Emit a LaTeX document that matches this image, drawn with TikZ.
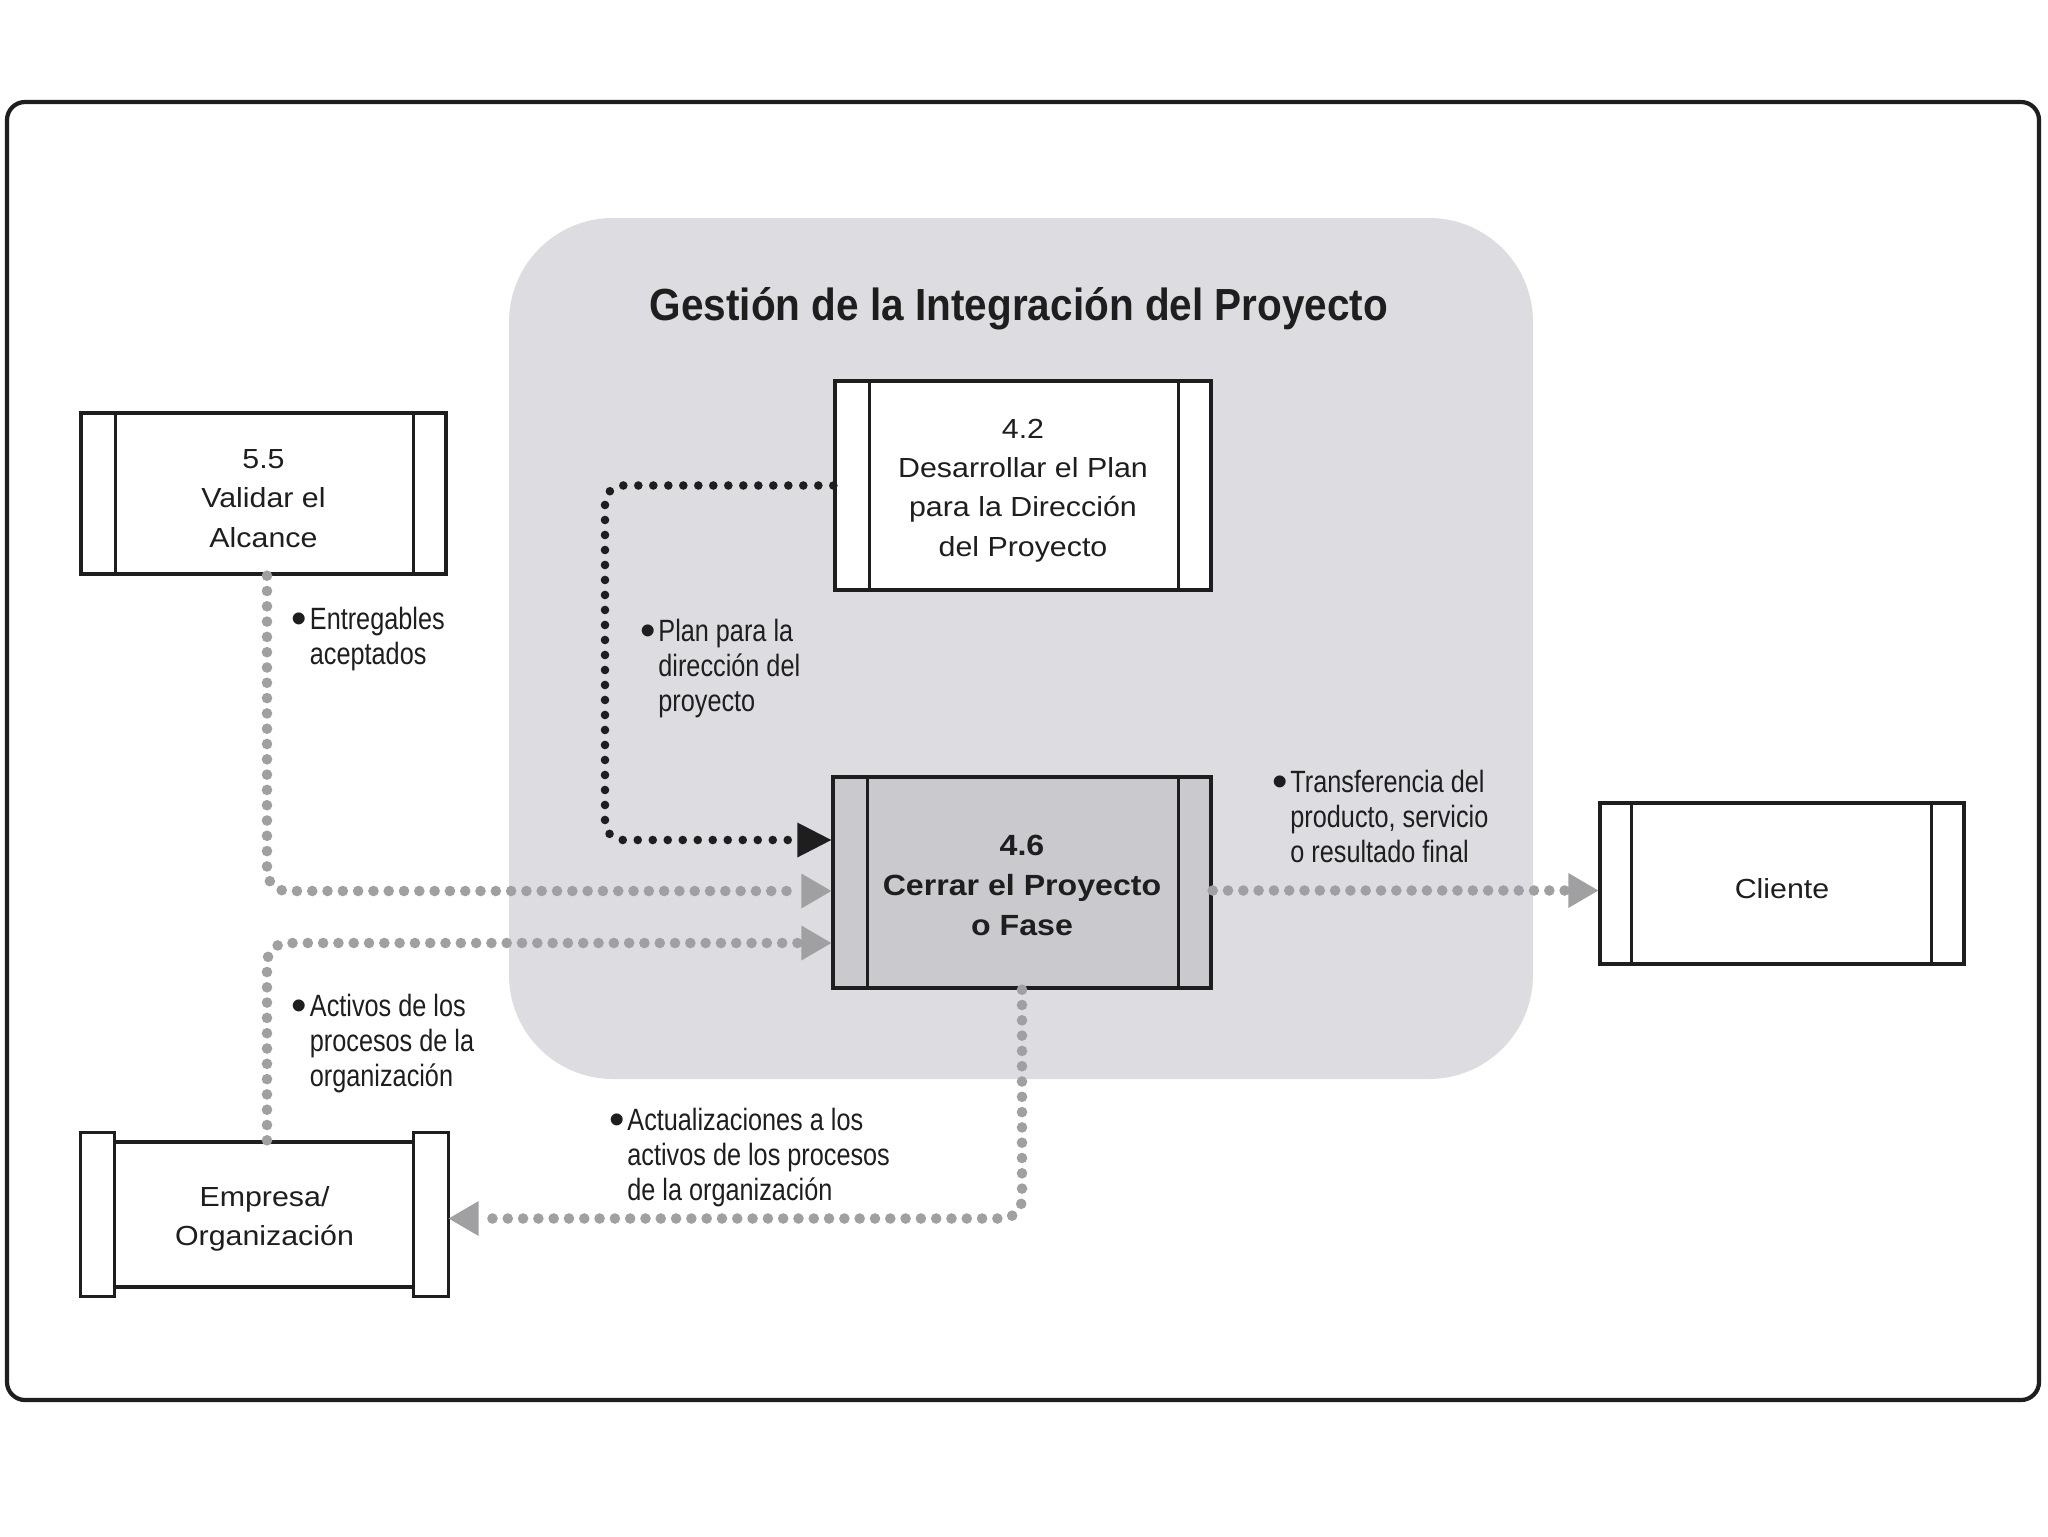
\documentclass[tikz,border=0pt]{standalone}
\usepackage{fontspec}
\setmainfont{Liberation Sans}
\newfontfamily\boxfont{Liberation Sans}[FakeStretch=1.1]
\newfontfamily\lblfont{Liberation Sans}[FakeStretch=0.82]
\newfontfamily\ttlfont{Liberation Sans}[FakeStretch=0.9]
\usetikzlibrary{arrows.meta}
\definecolor{regiongray}{RGB}{221,221,225}
\definecolor{procgray}{RGB}{201,201,206}
\definecolor{dotgray}{RGB}{160,160,162}
\definecolor{ink}{RGB}{30,30,30}
\newcommand{\bul}{\makebox[0pt][r]{\raisebox{-2pt}{\normalfont\fontsize{22}{22}\selectfont\textbullet}\hspace{1.5pt}}}
\tikzset{
  boxline/.style={draw=ink, line width=1.7pt},
  procbox/.style={boxline, fill=white, rectangle, inner sep=0pt},
  boxtext/.style={align=center, inner sep=0pt, yshift=-2.5pt,
    font=\boxfont\fontsize{13.8}{19.6}\selectfont, text=ink},
  graydots/.style={draw=dotgray, line width=5.3pt, line cap=round, dash pattern=on 0pt off 7.65pt,
    rounded corners=10pt, -{Triangle[length=15pt,width=17.5pt,line width=0pt,color=dotgray]}},
  blackdots/.style={draw=ink, line width=4.3pt, line cap=round, dash pattern=on 0pt off 7.5pt,
    rounded corners=9pt, -{Triangle[length=17pt,width=17.5pt,line width=0pt,color=ink]}},
  lbl/.style={anchor=north west, inner sep=0pt, align=left, text=ink,
    font=\lblfont\fontsize{15.4}{17.5}\selectfont},
}
\begin{document}
\begin{tikzpicture}[x=0.5pt,y=-0.5pt]
\useasboundingbox (0,0) rectangle (2048,1536);
\fill[white] (0,0) rectangle (2048,1536);
% outer frame
\draw[ink, line width=2.1pt, rounded corners=9pt] (7,102) rectangle (2039,1400);
% grey group
\node[fill=regiongray, rounded corners=52pt, minimum width=512pt, minimum height=430.5pt, inner sep=0pt] (grp) at (1021,648.5) {};
\node[font=\ttlfont\bfseries\fontsize{22.5}{26}\selectfont, text=ink] (ttl) at (1019,309) {Gestión de la Integración del Proyecto};
% process boxes
\node[procbox, minimum width=188pt, minimum height=104.5pt] (b42) at (1023,485.5) {};
\draw[boxline] ([xshift=18pt]b42.north west) -- ([xshift=18pt]b42.south west);
\draw[boxline] ([xshift=-17pt]b42.north east) -- ([xshift=-17pt]b42.south east);
\node[boxtext] (b42t) at (b42.center) {4.2\\Desarrollar el Plan\\para la Dirección\\del Proyecto};

\node[procbox, fill=procgray, minimum width=189pt, minimum height=105.5pt] (c46) at (1022,882.5) {};
\draw[boxline] ([xshift=18pt]c46.north west) -- ([xshift=18pt]c46.south west);
\draw[boxline] ([xshift=-17pt]c46.north east) -- ([xshift=-17pt]c46.south east);
\node[boxtext, yshift=1pt, font=\boxfont\bfseries\fontsize{14.6}{20}\selectfont] (c46t) at (c46.center)
  {4.6\\Cerrar el Proyecto\\o Fase};

\node[procbox, minimum width=182.5pt, minimum height=80.5pt] (a55) at (263.5,493.5) {};
\draw[boxline] ([xshift=18pt]a55.north west) -- ([xshift=18pt]a55.south west);
\draw[boxline] ([xshift=-17pt]a55.north east) -- ([xshift=-17pt]a55.south east);
\node[boxtext] (a55t) at (a55.center) {5.5\\Validar el\\Alcance};

\node[procbox, minimum width=182pt, minimum height=80.5pt] (cli) at (1782,883.5) {};
\draw[boxline] ([xshift=16.5pt]cli.north west) -- ([xshift=16.5pt]cli.south west);
\draw[boxline] ([xshift=-17pt]cli.north east) -- ([xshift=-17pt]cli.south east);
\node[boxtext] (clit) at (cli.center) {Cliente};

\node[procbox, minimum width=182.5pt, minimum height=72.5pt] (emp) at (264.5,1214.5) {};
\draw[boxline, fill=white] ([yshift=4pt]emp.north west) rectangle ([xshift=17pt,yshift=-4pt]emp.south west);
\draw[boxline, fill=white] ([xshift=-17.5pt,yshift=4pt]emp.north east) rectangle ([yshift=-4pt]emp.south east);
\node[boxtext, yshift=0.5pt] (empt) at (emp.center) {Empresa/\\Organización};

% connectors
\coordinate (k1) at (605,485.5);
\draw[blackdots] (b42.west) -- (k1) |- ([yshift=21.25pt]c46.west);
\draw[graydots] ([xshift=1.75pt]a55.south) |- ([yshift=-4.25pt]c46.west);
\draw[graydots] ([xshift=1.25pt]emp.north) |- ([yshift=-30.25pt]c46.west);
\coordinate (t1) at ([yshift=-4pt]c46.east);
\draw[graydots] (t1) -- (t1 -| cli.west);
\draw[graydots] (c46.south) |- ([yshift=-2pt]emp.east);

% labels
\node[lbl] (l1) at (309.5,607) {\bul Entregables\\aceptados};
\node[lbl] (l2) at (658,619) {\bul Plan para la\\dirección del\\proyecto};
\node[lbl] (l3) at (1290,770) {\bul Transferencia del\\producto, servicio\\o resultado final};
\node[lbl] (l4) at (309.5,994) {\bul Activos de los\\procesos de la\\organización};
\node[lbl] (l5) at (627,1108) {\bul Actualizaciones a los\\activos de los procesos\\de la organización};
\end{tikzpicture}
\end{document}
